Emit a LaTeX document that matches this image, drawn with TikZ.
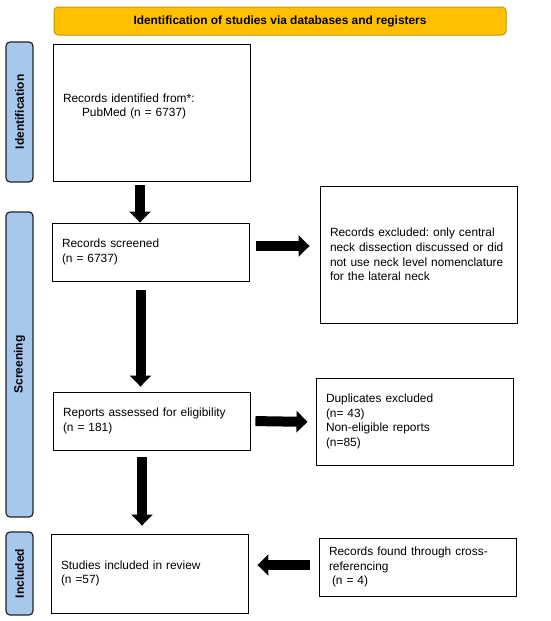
\documentclass[tikz,border=0pt]{standalone}
\usepackage{fontspec}
\setmainfont{Liberation Sans}
\usetikzlibrary{arrows.meta}
\definecolor{titlefill}{RGB}{255,192,0}
\definecolor{titledraw}{RGB}{200,150,0}
\definecolor{barfill}{RGB}{167,199,236}
\definecolor{bardraw}{RGB}{30,36,44}
\frenchspacing
\begin{document}
\begin{tikzpicture}[x=1pt,y=-1pt,
  every node/.style={font=\fontsize{11.9}{14.7}\selectfont},
  titlebox/.style={draw=titledraw, fill=titlefill, line width=1pt, rounded corners=4pt,
    minimum width=452pt, minimum height=28pt, inner sep=0pt,
    font=\fontsize{11.9}{14.7}\selectfont\bfseries},
  phase/.style={draw=bardraw, fill=barfill, line width=1.2pt, rounded corners=4pt,
    rotate=90, minimum height=27pt, inner sep=0pt,
    font=\fontsize{12}{14}\selectfont\bfseries},
  box/.style={draw=black, line width=0.9pt, fill=white, minimum width=197pt,
    inner xsep=10pt, inner ysep=0pt, text width=177pt, align=left},
  barrow/.style={line width=10pt, -{Triangle[width=21pt,length=11pt]}}
]
\useasboundingbox (0,0) rectangle (550,621);

\node[titlebox] (title) at (280,21) {Identification of studies via databases and registers};

\node[phase, minimum width=140pt] (pid) at (19.5,112) {Identification};
\node[phase, minimum width=305pt] (pscr) at (19.5,364.5) {Screening};
\node[phase, minimum width=83pt] (pinc) at (19.5,573.5) {Included};

\node[box, minimum height=137pt] (id) at (151.5,112.5)
  {Records identified from*:\\\hspace*{19pt}PubMed (n = 6737)\\\mbox{}};
\node[box, minimum height=58pt] (scr) at (150.5,252)
  {Records screened\\(n = 6737)};
\node[box, minimum height=137pt] (exc) at (418.5,254.5)
  {Records excluded: only central neck dissection discussed or did not use neck level nomenclature for the lateral neck};
\node[box, minimum height=58pt] (rep) at (151.5,421)
  {Reports assessed for eligibility\\(n = 181)};
\node[box, minimum height=87pt] (dup) at (414.5,421.5)
  {Duplicates excluded\\(n= 43)\\Non-eligible reports\\(n=85)};
\node[box, minimum height=79pt] (stu) at (149.5,573.5)
  {Studies included in review\\(n =57)};
\node[box, minimum height=58pt] (cro) at (417.5,567)
  {Records found through cross-\\referencing\\\hspace*{3pt}(n = 4)};

\draw[barrow, shorten <=4pt] ([xshift=-11.5pt]id.south) -- ([xshift=-10.5pt]scr.north);
\draw[barrow, shorten <=9pt, shorten >=5pt] ([xshift=-10pt]scr.south) -- ([xshift=-11pt]rep.north);
\draw[barrow, shorten <=7pt, shorten >=8pt] ([xshift=-9.5pt]rep.south) -- ([xshift=-7.5pt]stu.north);
\draw[barrow, shorten <=7pt, shorten >=10pt] ([yshift=6pt]scr.east) -- ([yshift=8.5pt]exc.west);
\draw[barrow, shorten <=5pt, shorten >=8pt] (rep.east) -- ([yshift=-0.5pt]dup.west);
\draw[barrow, shorten <=9pt, shorten >=9pt] ([yshift=2pt]cro.west) -- ([yshift=8.5pt]stu.east);
\end{tikzpicture}
\end{document}
